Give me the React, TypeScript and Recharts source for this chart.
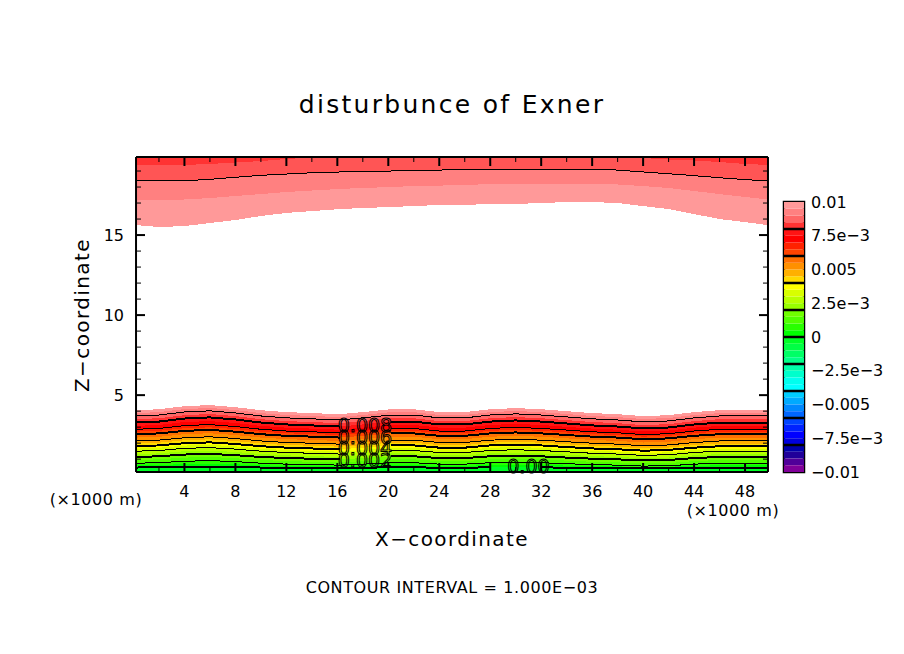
import React from "react";
import {
  Area,
  Bar,
  BarChart,
  ComposedChart,
  Label,
  Line,
  ReferenceArea,
  ReferenceDot,
  ReferenceLine,
  XAxis,
  YAxis,
} from "recharts";

const FONT = "'DejaVu Sans', sans-serif";
const X_DOMAIN: [number, number] = [0.2, 49.8];
const Z_DOMAIN: [number, number] = [0.2, 19.875];
const THIN = 0.01; // axes need a non-zero size, but must not push the plot area
const PLOT_MARGIN = { top: 157, right: 136, bottom: 182, left: 136 };

const xKm = [0.2, 2, 4, 6, 8, 10, 12, 14, 16.2, 18, 20.2, 22, 24, 26, 28, 30, 32, 34, 36, 38, 40, 42, 44, 46, 48, 49.8];

// height (km) of each Exner level near the ground, highest level first
const low100 = [4.06, 4.12, 4.31, 4.38, 4.25, 4.06, 3.94, 3.88, 3.81, 3.94, 4.12, 4.12, 3.94, 3.94, 4.12, 4.19, 4.12, 4.0, 3.88, 3.81, 3.69, 3.75, 3.94, 4.06, 4.06, 4.06];
const low95 = [3.88, 3.94, 4.13, 4.2, 4.07, 3.88, 3.76, 3.7, 3.63, 3.76, 3.94, 3.94, 3.76, 3.76, 3.94, 4.01, 3.94, 3.82, 3.7, 3.63, 3.51, 3.57, 3.76, 3.88, 3.88, 3.88];
const low90 = [3.7, 3.76, 3.95, 4.02, 3.89, 3.7, 3.58, 3.52, 3.45, 3.58, 3.76, 3.76, 3.58, 3.58, 3.76, 3.83, 3.76, 3.64, 3.52, 3.45, 3.33, 3.39, 3.58, 3.7, 3.7, 3.7];
const low85 = [3.5, 3.56, 3.75, 3.82, 3.69, 3.5, 3.38, 3.32, 3.25, 3.38, 3.56, 3.56, 3.38, 3.38, 3.56, 3.63, 3.56, 3.44, 3.32, 3.25, 3.13, 3.19, 3.38, 3.5, 3.5, 3.5];
const low80 = [3.29, 3.35, 3.54, 3.61, 3.48, 3.29, 3.17, 3.11, 3.04, 3.17, 3.35, 3.35, 3.17, 3.17, 3.35, 3.42, 3.35, 3.23, 3.11, 3.04, 2.92, 2.98, 3.17, 3.29, 3.29, 3.29];
const low75 = [3.08, 3.14, 3.32, 3.38, 3.26, 3.08, 2.97, 2.91, 2.84, 2.97, 3.14, 3.14, 2.97, 2.97, 3.14, 3.2, 3.14, 3.02, 2.91, 2.84, 2.73, 2.79, 2.97, 3.08, 3.08, 3.08];
const low70 = [2.87, 2.92, 3.1, 3.16, 3.04, 2.87, 2.76, 2.71, 2.65, 2.76, 2.92, 2.92, 2.76, 2.76, 2.92, 2.99, 2.92, 2.82, 2.71, 2.65, 2.54, 2.59, 2.76, 2.87, 2.87, 2.87];
const low65 = [2.72, 2.77, 2.93, 2.99, 2.88, 2.72, 2.62, 2.57, 2.51, 2.62, 2.77, 2.77, 2.62, 2.62, 2.77, 2.83, 2.77, 2.67, 2.57, 2.51, 2.41, 2.46, 2.62, 2.72, 2.72, 2.72];
const low60 = [2.56, 2.61, 2.77, 2.83, 2.72, 2.56, 2.46, 2.41, 2.35, 2.46, 2.61, 2.61, 2.46, 2.46, 2.61, 2.67, 2.61, 2.51, 2.41, 2.35, 2.25, 2.3, 2.46, 2.56, 2.56, 2.56];
const low55 = [2.35, 2.4, 2.56, 2.62, 2.51, 2.35, 2.25, 2.2, 2.14, 2.25, 2.4, 2.4, 2.25, 2.25, 2.4, 2.46, 2.4, 2.3, 2.2, 2.14, 2.04, 2.09, 2.25, 2.35, 2.35, 2.35];
const low50 = [2.14, 2.19, 2.34, 2.4, 2.29, 2.14, 2.04, 2.0, 1.94, 2.04, 2.19, 2.19, 2.04, 2.04, 2.19, 2.24, 2.19, 2.09, 2.0, 1.94, 1.84, 1.89, 2.04, 2.14, 2.14, 2.14];
const low45 = [1.98, 2.03, 2.18, 2.24, 2.13, 1.98, 1.88, 1.84, 1.78, 1.88, 2.03, 2.03, 1.88, 1.88, 2.03, 2.08, 2.03, 1.93, 1.84, 1.78, 1.68, 1.73, 1.88, 1.98, 1.98, 1.98];
const low40 = [1.81, 1.86, 2.0, 2.05, 1.95, 1.81, 1.72, 1.67, 1.62, 1.72, 1.86, 1.86, 1.72, 1.72, 1.86, 1.91, 1.86, 1.76, 1.67, 1.62, 1.53, 1.58, 1.72, 1.81, 1.81, 1.81];
const low35 = [1.66, 1.71, 1.85, 1.9, 1.8, 1.66, 1.57, 1.52, 1.47, 1.57, 1.71, 1.71, 1.57, 1.57, 1.71, 1.76, 1.71, 1.61, 1.52, 1.47, 1.38, 1.43, 1.57, 1.66, 1.66, 1.66];
const low30 = [1.5, 1.54, 1.68, 1.72, 1.63, 1.5, 1.42, 1.37, 1.32, 1.42, 1.54, 1.54, 1.42, 1.42, 1.54, 1.59, 1.54, 1.46, 1.37, 1.32, 1.24, 1.28, 1.42, 1.5, 1.5, 1.5];
const low25 = [1.32, 1.36, 1.5, 1.54, 1.45, 1.32, 1.24, 1.19, 1.14, 1.24, 1.36, 1.36, 1.24, 1.24, 1.36, 1.41, 1.36, 1.28, 1.19, 1.14, 1.06, 1.1, 1.24, 1.32, 1.32, 1.32];
const low20 = [1.14, 1.18, 1.29, 1.33, 1.25, 1.14, 1.07, 1.03, 0.99, 1.07, 1.18, 1.18, 1.07, 1.07, 1.18, 1.22, 1.18, 1.1, 1.03, 0.99, 0.92, 0.95, 1.07, 1.14, 1.14, 1.14];
const low15 = [0.95, 0.99, 1.1, 1.14, 1.06, 0.95, 0.88, 0.84, 0.8, 0.88, 0.99, 0.99, 0.88, 0.88, 0.99, 1.03, 0.99, 0.91, 0.84, 0.8, 0.73, 0.76, 0.88, 0.95, 0.95, 0.95];
const low10 = [0.75, 0.78, 0.87, 0.91, 0.85, 0.75, 0.69, 0.66, 0.63, 0.69, 0.78, 0.78, 0.69, 0.69, 0.78, 0.81, 0.78, 0.72, 0.66, 0.63, 0.57, 0.59, 0.69, 0.75, 0.75, 0.75];
const low05 = [0.62, 0.64, 0.69, 0.72, 0.68, 0.62, 0.58, 0.57, 0.55, 0.58, 0.64, 0.64, 0.58, 0.58, 0.64, 0.66, 0.64, 0.6, 0.57, 0.55, 0.51, 0.53, 0.58, 0.62, 0.62, 0.62];
const low00 = [0.48, 0.49, 0.52, 0.53, 0.51, 0.48, 0.47, 0.46, 0.45, 0.47, 0.49, 0.49, 0.47, 0.47, 0.49, 0.5, 0.49, 0.47, 0.46, 0.45, 0.44, 0.44, 0.47, 0.48, 0.48, 0.48];

// bands hanging from the top of the domain, lowest edge first
const high1 = [15.62, 15.5, 15.56, 15.75, 15.94, 16.19, 16.38, 16.5, 16.62, 16.69, 16.75, 16.81, 16.88, 16.88, 16.94, 16.94, 17.0, 17.06, 17.06, 17.0, 16.81, 16.62, 16.31, 16.0, 15.81, 15.62];
const high2 = [17.19, 17.19, 17.22, 17.31, 17.44, 17.56, 17.69, 17.78, 17.88, 17.94, 18.0, 18.06, 18.09, 18.12, 18.19, 18.19, 18.19, 18.19, 18.19, 18.16, 18.06, 17.94, 17.75, 17.56, 17.38, 17.22];
const high3 = [18.39, 18.39, 18.39, 18.48, 18.61, 18.73, 18.81, 18.89, 18.94, 18.97, 19.0, 19.03, 19.06, 19.09, 19.11, 19.11, 19.11, 19.11, 19.11, 19.06, 18.94, 18.83, 18.71, 18.58, 18.46, 18.39];
const high4 = [19.38, 19.38, 19.38, 19.44, 19.53, 19.62, 19.75, 19.84, 19.875, 19.875, 19.875, 19.875, 19.875, 19.875, 19.875, 19.875, 19.875, 19.875, 19.875, 19.875, 19.81, 19.72, 19.66, 19.56, 19.44, 19.38];

const lowBands = [low100, low95, low90, low85, low80, low75, low70, low65, low60, low55, low50, low45, low40, low35, low30, low25, low20, low15, low10, low05, low00];
const lowColors = ["#ff9999", "#ff8080", "#ff6666", "#ff3333", "#ff1414", "#ff0000", "#ff2200", "#ff4400", "#ff7000", "#ff9000", "#ffb000", "#ffd800", "#ffff00", "#d8ff00", "#b8ff00", "#98ff00", "#70ff00", "#50ff00", "#28ff00", "#00ff00", "#00ff26"];
const highBands = [high1, high2, high3, high4];
const highColors = ["#ff9999", "#ff8080", "#ff5555", "#ff3333"];

// indices into lowBands of the drawn contours, and where they break for a label
const contourIdx = [2, 4, 6, 8, 10, 12, 14, 16, 18, 20];
const thickContours = [4, 8, 12, 16, 20];
const gapAt18 = [4, 6, 8, 10, 12, 14, 16];
const gapAt30 = [20];

const labelText = ["0.008", "0.006", "0.004", "0.002", "0.00"];
const labelX = [18.17, 18.17, 18.17, 18.17, 31];
const labelZ = [3.12, 2.38, 1.69, 0.94, 0.56];

const xMajor = [4, 8, 12, 16, 20, 24, 28, 32, 36, 40, 44, 48];
const xMinor = [2, 6, 10, 14, 18, 22, 26, 30, 34, 38, 42, 46];
const zMajor = [5, 10, 15];
const zMinor = [1, 2, 3, 4, 6, 7, 8, 9, 11, 12, 13, 14, 16, 17, 18, 19];

const legendColors = ["#ff9999", "#ff8080", "#ff6666", "#ff3333", "#ff1414", "#ff0000", "#ff2200", "#ff4400", "#ff7000", "#ff9000", "#ffb000", "#ffd800", "#ffff00", "#d8ff00", "#b8ff00", "#98ff00", "#70ff00", "#50ff00", "#28ff00", "#00ff00", "#00ff26", "#00ff44", "#00ff66", "#00ff88", "#00ffaa", "#00ffcc", "#00ffee", "#00ffff", "#00ccff", "#00aaff", "#0088ff", "#0066ff", "#0044ff", "#0022ff", "#0000ff", "#0000dd", "#0000aa", "#200099", "#500099", "#800099"];
const legendTicks = [0.01, 0.0075, 0.005, 0.0025, 0, -0.0025, -0.005, -0.0075, -0.01];
const legendLabels = ["0.01", "7.5e\u22123", "0.005", "2.5e\u22123", "0", "\u22122.5e\u22123", "\u22120.005", "\u22127.5e\u22123", "\u22120.01"];
const legendBreaks = [0.008, 0.006, 0.004, 0.002, 0, -0.002, -0.004, -0.006, -0.008];
const legendStep = 0.0005;

const rows = xKm.map((x, i) => {
  const row: Record<string, number | null> = { x };
  lowBands.forEach((band, b) => {
    row[`low${b}`] = band[i];
    const broken = (x === 18 && gapAt18.includes(b)) || (x === 30 && gapAt30.includes(b));
    row[`line${b}`] = broken ? null : band[i];
  });
  highBands.forEach((band, b) => {
    row[`high${b}`] = band[i];
  });
  return row;
});

const legendRow: Record<string, number | string> = { name: "scale" };
legendColors.forEach((_, i) => {
  legendRow[`c${i}`] = i < 20 ? legendStep : -legendStep;
});
const legendOrder = [...legendColors.keys()].slice(0, 20).reverse().concat([...legendColors.keys()].slice(20));

const tickFont = { fontSize: 16, fontFamily: FONT, fill: "#000" };
const frame = { stroke: "#000", strokeWidth: 2 };
const layer = { position: "absolute", left: 0, top: 0 } as const;

// inward tick, drawn as the axis' custom tick so it sits on the library's scale
const mark = (dx: number, dy: number, width: number) => (p: any) => (
  <line x1={p.x} y1={p.y} x2={p.x + dx} y2={p.y + dy} stroke="#000" strokeWidth={width} />
);

const markAxis = { interval: 0, tickLine: false, tickSize: 0, tickMargin: 0, allowDataOverflow: true, type: "number" } as const;

export default function App() {
  return (
    <div style={{ ...layer, width: 904, height: 654, background: "#fff" }}>
      {/* colour bands and contours */}
      <div style={layer}>
        <ComposedChart width={904} height={654} data={rows} margin={PLOT_MARGIN}>
          <XAxis xAxisId="b" dataKey="x" type="number" domain={X_DOMAIN} hide allowDataOverflow />
          <YAxis yAxisId="l" type="number" domain={Z_DOMAIN} hide allowDataOverflow />
          {highBands.map((_, b) => (
            <Area
              key={`high${b}`}
              xAxisId="b"
              yAxisId="l"
              dataKey={`high${b}`}
              baseValue={Z_DOMAIN[1]}
              type="linear"
              stroke="none"
              fill={highColors[b]}
              fillOpacity={1}
              dot={false}
              activeDot={false}
              isAnimationActive={false}
              shapeRendering="crispEdges"
            />
          ))}
          {lowBands.map((_, b) => (
            <Area
              key={`low${b}`}
              xAxisId="b"
              yAxisId="l"
              dataKey={`low${b}`}
              type="linear"
              stroke="none"
              fill={lowColors[b]}
              fillOpacity={1}
              dot={false}
              activeDot={false}
              isAnimationActive={false}
              shapeRendering="crispEdges"
            />
          ))}
          <Line
            xAxisId="b"
            yAxisId="l"
            dataKey="high2"
            stroke="#000"
            strokeWidth={1}
            dot={false}
            activeDot={false}
            isAnimationActive={false}
            shapeRendering="crispEdges"
          />
          {contourIdx.map((b) => (
            <Line
              key={`line${b}`}
              xAxisId="b"
              yAxisId="l"
              dataKey={`line${b}`}
              stroke="#000"
              strokeWidth={thickContours.includes(b) ? 2 : 1}
              dot={false}
              activeDot={false}
              isAnimationActive={false}
              shapeRendering="crispEdges"
            />
          ))}
        </ComposedChart>
      </div>

      {/* axes and text go in a second chart, the bands would paint over them otherwise */}
      <div style={layer}>
        <ComposedChart width={904} height={654} data={rows} margin={PLOT_MARGIN}>
          <XAxis xAxisId="b" dataKey="x" type="number" domain={X_DOMAIN} orientation="bottom" height={THIN} ticks={xMajor} interval={0} tick={tickFont} tickSize={0} tickMargin={14} tickLine={false} axisLine={frame} allowDataOverflow />
          <XAxis xAxisId="bM" dataKey="x" {...markAxis} domain={X_DOMAIN} orientation="bottom" height={THIN} ticks={xMajor} tick={mark(0, -9, 2)} axisLine={false} />
          <XAxis xAxisId="bm" dataKey="x" {...markAxis} domain={X_DOMAIN} orientation="bottom" height={THIN} ticks={xMinor} tick={mark(0, -5, 1)} axisLine={false} />
          <XAxis xAxisId="t" dataKey="x" {...markAxis} domain={X_DOMAIN} orientation="top" height={THIN} ticks={xMajor} tick={mark(0, 9, 2)} axisLine={frame} />
          <XAxis xAxisId="tm" dataKey="x" {...markAxis} domain={X_DOMAIN} orientation="top" height={THIN} ticks={xMinor} tick={mark(0, 5, 1)} axisLine={false} />
          <YAxis yAxisId="l" type="number" domain={Z_DOMAIN} orientation="left" width={THIN} ticks={zMajor} interval={0} tick={tickFont} tickSize={0} tickMargin={12} tickLine={false} axisLine={frame} allowDataOverflow />
          <YAxis yAxisId="lM" {...markAxis} domain={Z_DOMAIN} orientation="left" width={THIN} ticks={zMajor} tick={mark(9, 0, 2)} axisLine={false} />
          <YAxis yAxisId="lm" {...markAxis} domain={Z_DOMAIN} orientation="left" width={THIN} ticks={zMinor} tick={mark(5, 0, 1)} axisLine={false} />
          <YAxis yAxisId="r" {...markAxis} domain={Z_DOMAIN} orientation="right" width={THIN} ticks={zMajor} tick={mark(-9, 0, 2)} axisLine={frame} />
          <YAxis yAxisId="rm" {...markAxis} domain={Z_DOMAIN} orientation="right" width={THIN} ticks={zMinor} tick={mark(-5, 0, 1)} axisLine={false} />

          {labelText.map((t, i) => (
            <ReferenceDot key={t} xAxisId="b" yAxisId="l" x={labelX[i]} y={labelZ[i]} r={0} fill="none" stroke="none">
              <Label value={t} position="center" fontSize={19} fontFamily={FONT} fill="none" stroke="#000" strokeWidth={1} />
            </ReferenceDot>
          ))}

          <text x={452} y={113} textAnchor="middle" fontSize={25} letterSpacing={2.3} fontFamily={FONT} fill="#000">disturbunce of Exner</text>
          <text x={452} y={546} textAnchor="middle" fontSize={20} letterSpacing={1.4} fontFamily={FONT} fill="#000">X{"\u2212"}coordinate</text>
          <text x={89} y={315} textAnchor="middle" fontSize={20} letterSpacing={1.4} fontFamily={FONT} fill="#000" transform="rotate(-90 89 315)">Z{"\u2212"}coordinate</text>
          <text x={96} y={505} textAnchor="middle" fontSize={16} letterSpacing={0.6} fontFamily={FONT} fill="#000">(×1000 m)</text>
          <text x={733} y={516} textAnchor="middle" fontSize={16} letterSpacing={0.6} fontFamily={FONT} fill="#000">(×1000 m)</text>
          <text x={452} y={593} textAnchor="middle" fontSize={16} letterSpacing={0.6} fontFamily={FONT} fill="#000">CONTOUR INTERVAL = 1.000E{"\u2212"}03</text>
        </ComposedChart>
      </div>

      <div style={{ position: "absolute", left: 764, top: 182 }}>
        <BarChart
          width={140}
          height={310}
          data={[legendRow]}
          stackOffset="sign"
          barCategoryGap={0}
          margin={{ top: 20, right: 100, bottom: 20, left: 20 }}
        >
          <XAxis dataKey="name" hide />
          <YAxis
            type="number"
            orientation="right"
            domain={[-0.01, 0.01]}
            ticks={legendTicks}
            interval={0}
            width={THIN}
            axisLine={false}
            tickLine={false}
            tickMargin={1}
            tick={tickFont}
            tickFormatter={(v) => legendLabels[legendTicks.indexOf(v)]}
          />
          {legendOrder.map((i) => (
            <Bar key={i} dataKey={`c${i}`} stackId="scale" fill={legendColors[i]} isAnimationActive={false} />
          ))}
          {legendBreaks.map((v) => (
            <ReferenceLine key={v} y={v} stroke="#000" strokeWidth={2.5} />
          ))}
          <ReferenceArea y1={-0.01} y2={0.01} fill="none" stroke="#000" strokeWidth={2.5} />
        </BarChart>
      </div>
    </div>
  );
}
